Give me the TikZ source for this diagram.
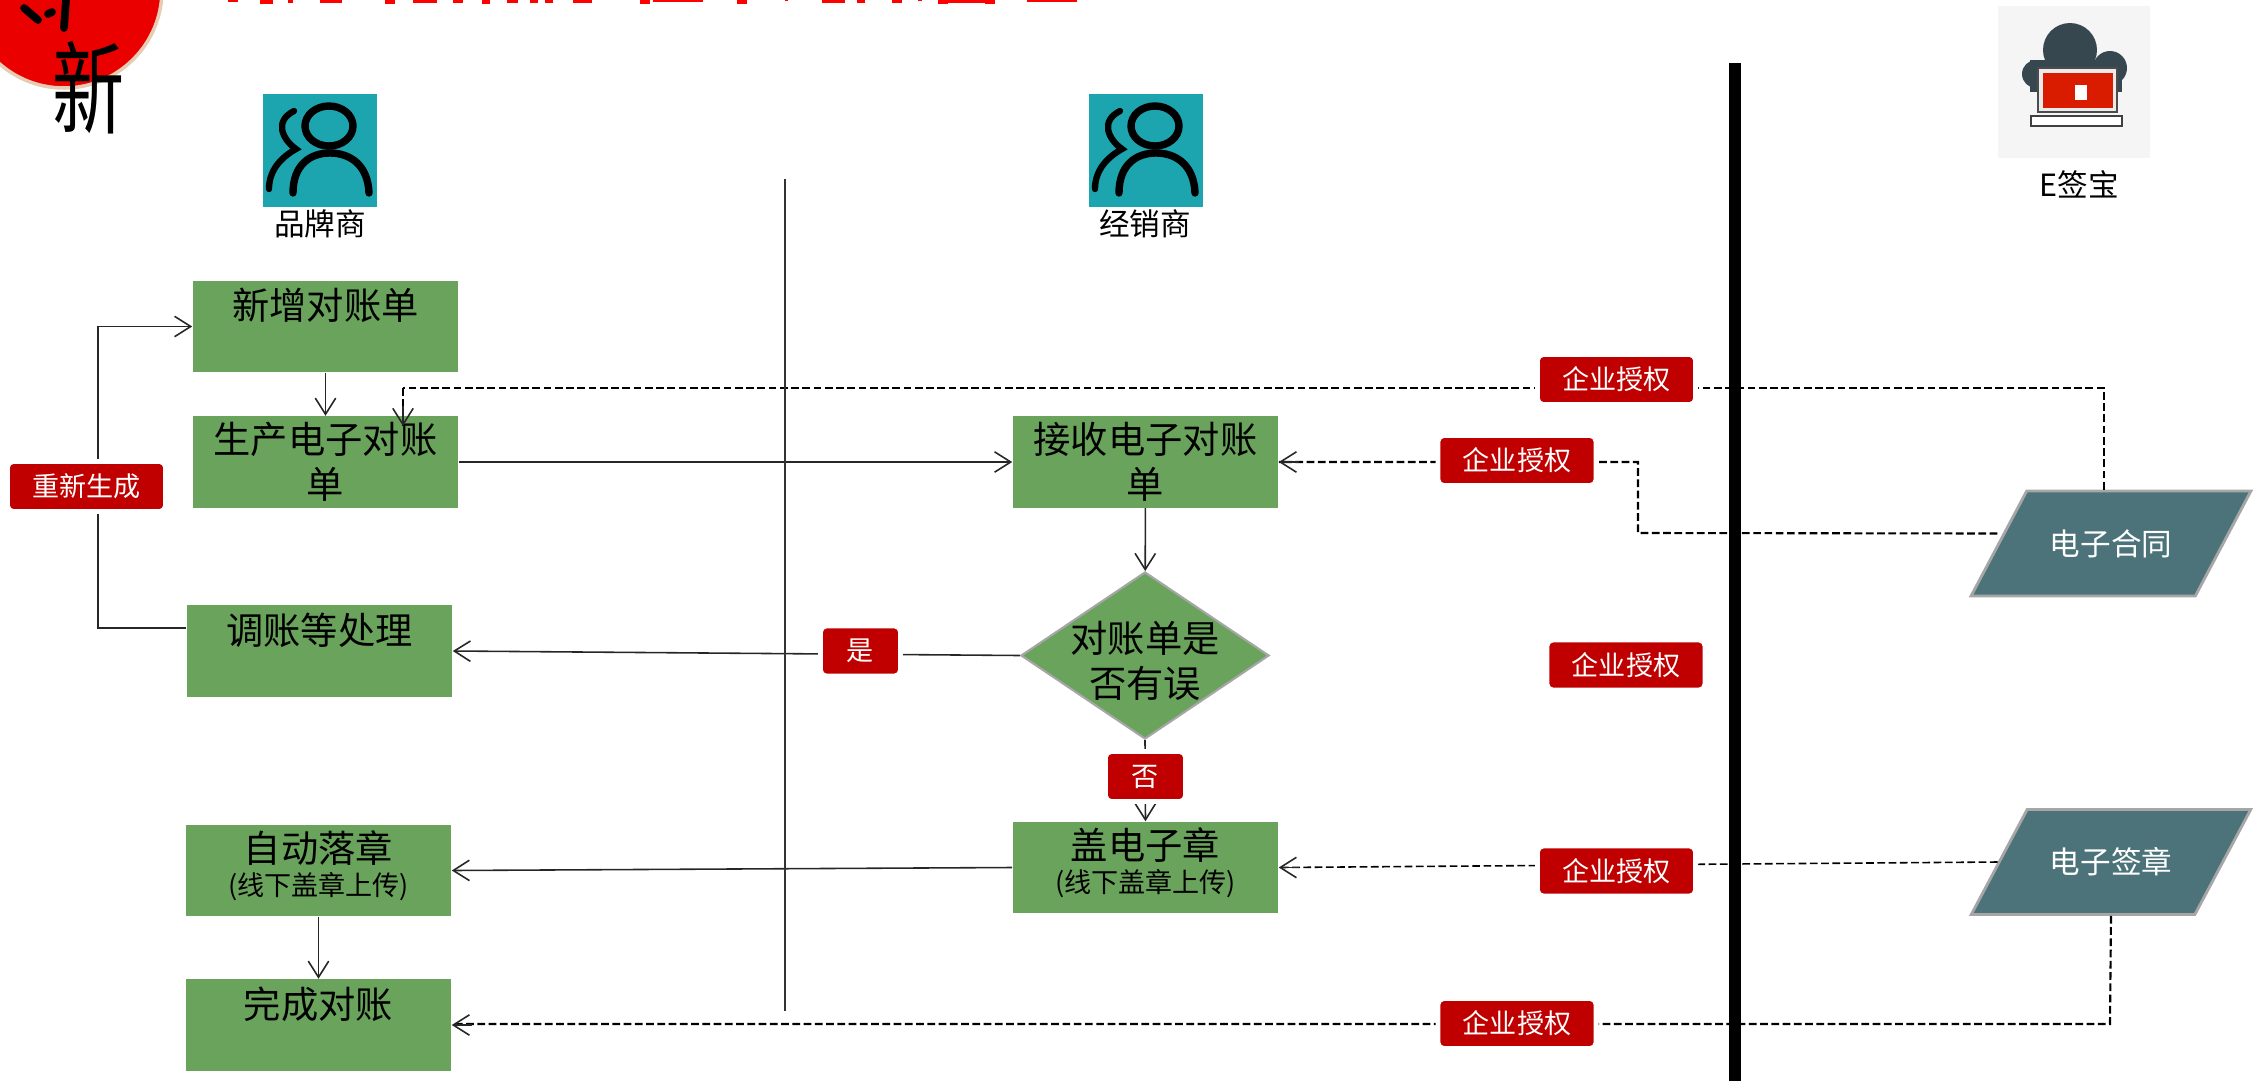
\documentclass[tikz,border=0pt]{standalone}
\usepackage{fontspec}
\setmainfont{Noto Sans CJK SC}
\usetikzlibrary{arrows.meta}
\usetikzlibrary{shapes.geometric}

\definecolor{boxgreen}{HTML}{6AA35C}
\definecolor{tagred}{HTML}{C00000}
\definecolor{iconteal}{HTML}{1CA5AE}
\definecolor{slab}{HTML}{4B7379}
\definecolor{cloudgrey}{HTML}{37474F}
\newcommand{\bigtext}{\fontsize{10.6}{12.8}\selectfont}
\newcommand{\midtext}{\fontsize{8.7}{11}\selectfont}
\newcommand{\smalltext}{\fontsize{7.7}{9.5}\selectfont}
\newcommand{\sealnote}{{\smalltext (线下盖章上传)\rule[-4pt]{0pt}{0pt}}}

\begin{document}
\begin{tikzpicture}[x=0.01cm, y=-0.01cm,
>={Straight Barb[length=4.6pt,width=5.8pt]},
flow/.style={draw=black!85, line width=0.45pt, ->},
authflow/.style={draw=black, line width=0.6pt, dash pattern=on 2.2pt off 1pt},
stepbox/.style={fill=boxgreen, minimum width=2.65cm, minimum height=0.91cm, inner sep=0pt, align=center, font=\bigtext},
slabbox/.style={trapezium, trapezium left angle=35, trapezium right angle=145, trapezium stretches=true, fill=slab, draw=black!35, line width=0.8pt, minimum width=2.8cm, minimum height=1.05cm, inner sep=0pt, text=white, font=\midtext},
tag/.style={fill=tagred, draw=white, line width=1.4pt, rounded corners=1.6pt, minimum width=1.58cm, minimum height=0.5cm, inner sep=0pt, text=white, font=\smalltext},
shorttag/.style={tag, minimum width=0.8cm},
caption/.style={inner sep=0pt, font=\midtext},
person/.pic={
    \node[fill=iconteal, minimum width=1.14cm, minimum height=1.13cm, inner sep=0pt, anchor=north west] (-bg) at (0,0) {};
    \draw[line width=2.1pt, line cap=round] (67,33) circle[x radius=24, y radius=20];
    \draw[line width=2.1pt, line cap=round] (31,100) .. controls (31,72) and (48,60) .. (68,60) .. controls (88,60) and (106,72) .. (107,100);
    \draw[line width=1.8pt, line cap=round] (7,96) .. controls (7,78) and (18,65) .. (34,56) .. controls (20,46) and (12,28) .. (32,18);
}]

    \useasboundingbox (0,0) rectangle (2259,1081);
    \clip (0,0) rectangle (2259,1081);

    % top left badge
    \fill[fill=red!92!black, draw=brown!40!white, line width=1pt] (64,-10) circle (98);
    \draw[line width=2.2pt, line cap=round] (66,0) -- (64,28) (24,8) -- (38,20) (52,12) -- (48,14);
    \node[inner sep=0pt, font=\fontsize{20.5}{22}\selectfont] (badgechar) at (89,88) {\scalebox{1}[1.4]{新}};

    % what is left of the title
    \foreach \xa/\xb/\h in {228/238/2, 260/273/3.5, 288/293/3, 320/342/3, 385/395/4, 413/437/3, 453/463/3, 482/490/4, 507/518/3,
        530/538/3, 545/553/3, 573/592/3, 640/650/4, 653/703/1.5, 737/747/4, 785/788/1,
        822/845/3, 857/865/3, 892/902/3, 918/922/1, 938/948/4, 948/985/2.5, 985/995/4, 1027/1077/2}
        \fill[red] (\xa,0) rectangle (\xb,\h);

    \pic (brandicon) at (262,93) {person};
    \pic (dealericon) at (1088,93) {person};
    \node[caption] (brand) at (320,224) {品牌商};
    \node[caption] (dealer) at (1145,224) {经销商};

    % e-sign icon
    \fill[black!4] (1998,6) rectangle (2150,158);
    \fill[cloudgrey] (2070,50) circle (27);
    \fill[cloudgrey] (2036,74) circle (14);
    \fill[cloudgrey] (2110,68) circle (17);
    \fill[cloudgrey] (2030,60) rectangle (2122,92);
    \fill[black!8, draw=black!70, line width=0.5pt] (2038,68) rectangle (2117,112);
    \fill[red!75!orange!85!black] (2043,73) rectangle (2113,108);
    \fill[white] (2075,85) rectangle (2087,100);
    \fill[white, draw=black!75, line width=0.8pt] (2031,116) rectangle (2122,126);
    \node[caption] (esign) at (2079,184) {E签宝};

    \node[stepbox] (newbill) at (325.5,326.5) {新增对账单\\~};
    \node[stepbox] (genbill) at (325.5,462) {生产电子对账\\单};
    \node[stepbox] (adjust) at (319.5,651) {调账等处理\\~};
    \node[stepbox] (autoseal) at (318.5,870.5) {自动落章\\[-3.4pt]\sealnote};
    \node[stepbox] (finish) at (318.5,1025) {完成对账\\~};
    \node[stepbox] (recvbill) at (1145.5,462) {接收电子对账\\单};
    \node[stepbox] (stamp) at (1145.5,867.5) {盖电子章\\[-3.4pt]\sealnote};
    \node[diamond, fill=boxgreen, draw=black!35, line width=0.6pt, minimum width=2.48cm, minimum height=1.67cm, inner sep=0pt, 
        label={[align=center, font=\bigtext, yshift=-0.05cm]center:对账单是\\否有误}] (check) at (1145,655.5) {};
    \node[slabbox] (contract) at (2111,543.5) {电子合同};
    \node[slabbox] (sign) at (2111,862) {电子签章};

    \coordinate (loopdown) at (98,628);
    \coordinate (loopup) at (98,326.5);
    \coordinate (gentip) at (403,426);
    \coordinate (gencorner) at (403,388);
    \coordinate (recvcorner) at (1638,533);
    \coordinate (finishcorner) at (2110,1024);

    \draw[flow] (newbill) -- (genbill);
    \draw[flow] (genbill) -- (recvbill);
    \draw[flow] (recvbill) -- (check);
    \draw[flow] (check.south) -- (stamp.north);
    \draw[flow] (check.west) -- (adjust.east);
    \draw[flow] (stamp.west) -- (autoseal.east);
    \draw[flow] (autoseal) -- (finish);
    \draw[flow] (adjust.west |- loopdown) -- (loopdown) -- (loopup) -- (newbill.west);

    \draw[authflow] ([xshift=-0.07cm]contract.north) |- (gencorner);
    \draw[authflow] (gencorner) -- (gentip);
    \draw[flow] ([yshift=0.2cm]gentip) -- (gentip);
    \draw[authflow] ([yshift=0.1cm]contract.west) -- (recvcorner) |- (recvbill.east);
    \draw[flow] ([xshift=0.2cm]recvbill.east) -- (recvbill.east);
    \draw[authflow, line width=0.45pt] (sign.west) -- (stamp.east);
    \draw[flow] ([xshift=0.2cm]stamp.east) -- (stamp.east);
    \draw[authflow] (sign.south) -- (finishcorner) -- (finishcorner -| finish.east);
    \draw[flow] ([xshift=0.2cm]finish.east) -- (finish.east);

    \coordinate (lanetop) at (785,179);
    \coordinate (lanebottom) at (785,1011);
    \coordinate (walltop) at (1735,63);
    \coordinate (wallbottom) at (1735,1081);
    \draw[black!80, line width=0.45pt] (lanetop) -- (lanebottom);
    \draw[line width=3.4pt] (walltop) -- (wallbottom);

    \node[tag] (regen) at (86.5,486.5) {重新生成};
    \node[tag] (authA) at (1616.5,379.5) {企业授权};
    \node[tag] (authB) at (1517,460.5) {企业授权};
    \node[tag] (authC) at (1626,665) {企业授权};
    \node[tag] (authD) at (1616.5,871) {企业授权};
    \node[tag] (authE) at (1517,1023.5) {企业授权};
    \node[shorttag] (yes) at (860.5,651) {是};
    \node[shorttag] (no) at (1145.5,776.5) {否};

\end{tikzpicture}
\end{document}
